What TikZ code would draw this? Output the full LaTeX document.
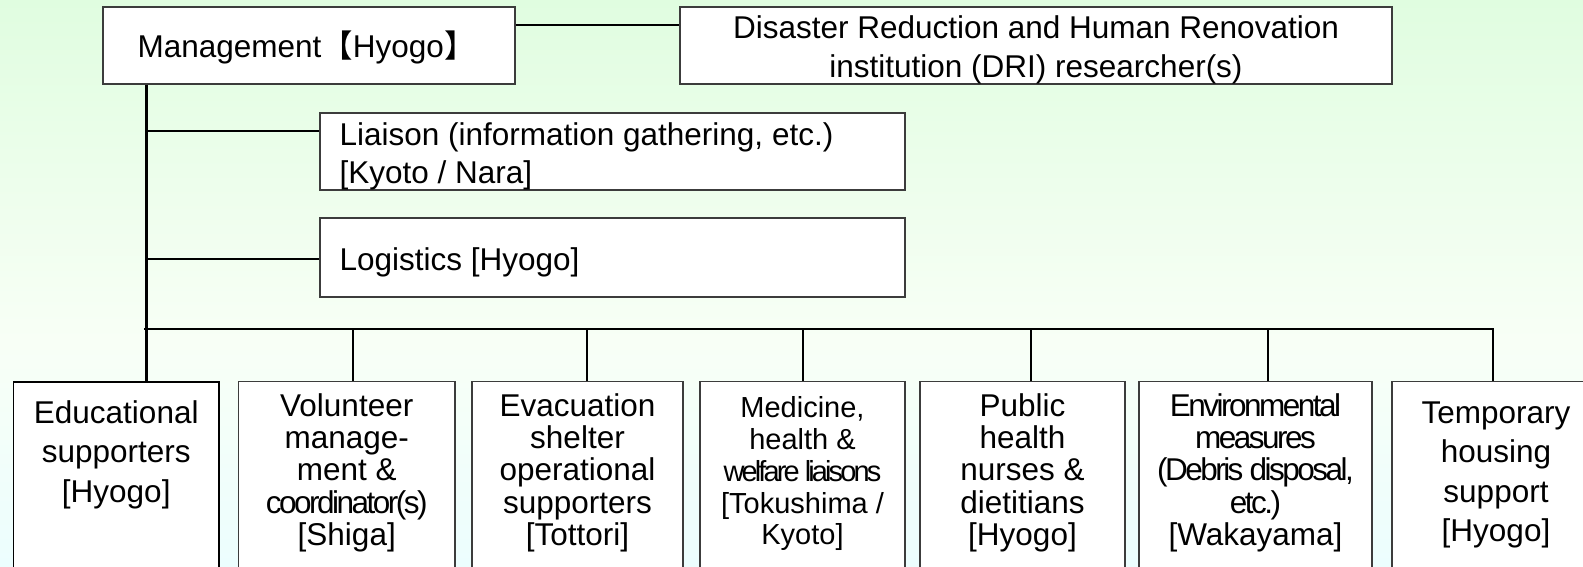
\documentclass[tikz,border=0pt]{standalone}
\usepackage{fontspec}
\setmainfont{Liberation Sans}
\newfontfamily\cjkfont{Noto Sans CJK JP}
\usetikzlibrary{calc}
\definecolor{bgtop}{RGB}{224,253,224}
\definecolor{bgmid}{RGB}{248,255,246}
\definecolor{bgbot}{RGB}{236,254,254}
\definecolor{boxline}{RGB}{60,60,60}
\pgfdeclareverticalshading{bgshade}{100bp}{color(0bp)=(bgbot); color(25bp)=(bgbot); color(45bp)=(bgmid); color(75bp)=(bgtop); color(100bp)=(bgtop)}
\newcommand{\firstln}{\rule{0pt}{25pt}}
\newcommand{\condA}[1]{{\addfontfeature{LetterSpace=-8}#1}}
\newcommand{\condB}[1]{{\addfontfeature{LetterSpace=-10}#1}}
\tikzset{
  orgbox/.style={draw=boxline, line width=1.2pt, fill=white, rectangle, inner sep=0pt},
  lowbox/.style={orgbox, anchor=north, minimum height=240pt},
  conn/.style={draw=black, line width=1.8pt},
  thickconn/.style={draw=black, line width=2.4pt},
  thinconn/.style={draw=black, line width=1.3pt},
  trunkline/.style={draw=black, line width=2.4pt},
  txtwide/.style={font=\fontsize{31.5}{39.4}\selectfont, align=center, inner sep=0pt, anchor=north},
  txttight/.style={font=\fontsize{31.5}{32.3}\selectfont, align=center, inner sep=0pt, anchor=north},
  txtsmall/.style={font=\fontsize{29}{31.8}\selectfont, align=center, inner sep=0pt, anchor=north},
  txtone/.style={font=\fontsize{31.5}{38}\selectfont, inner sep=0pt}
}
\begin{document}
\begin{tikzpicture}[x=1pt,y=-1pt]
\useasboundingbox (0,0) rectangle (1583,567);
\shade[shading=bgshade] (0,0) rectangle (1583,567);

% top boxes
\node[orgbox, minimum width=412pt, minimum height=77pt] (mgmt) at (309,45.5) {};
\node[orgbox, minimum width=712pt, minimum height=77pt] (dri) at (1036,45.5) {};
\node[orgbox, minimum width=585pt, minimum height=77pt] (liaison) at (612.5,151.5) {};
\node[orgbox, minimum width=585pt, minimum height=79pt] (logis) at (612.5,257.5) {};

\node[txtone, anchor=base west] (mgmtt) at ($(mgmt.north west)+(35,50.8)$) {Management{\cjkfont 【}Hyogo{\cjkfont 】}};
\node[txtone, font=\fontsize{31.5}{39}\selectfont, align=center, anchor=north] (drit) at ($(dri.north)+(0,7)$) {\firstln Disaster Reduction and Human Renovation\\institution (DRI) researcher(s)};
\node[txtone, align=left, anchor=north west] (liaisont) at ($(liaison.north west)+(20,8.3)$) {\firstln Liaison (information gathering, etc.)\\{[}Kyoto / Nara]};
\node[txtone, anchor=base west] (logist) at ($(logis.north west)+(20,52.8)$) {Logistics [Hyogo]};

% bottom boxes
\node[lowbox, line width=1.8pt, draw=black, minimum width=205.5pt] (b1) at (116.25,381) {};
\node[lowbox, minimum width=216.5pt] (b2) at (346.75,381) {};
\node[lowbox, minimum width=211pt] (b3) at (577.5,381) {};
\node[lowbox, minimum width=205pt] (b4) at (802.5,381) {};
\node[lowbox, minimum width=205pt] (b5) at (1022.5,381) {};
\node[lowbox, minimum width=233pt] (b6) at (1255.5,381) {};
\node[lowbox, minimum width=208pt] (b7) at (1496,381) {};

\node[txtwide] (t1) at ($(b1.north)+(0,17)$) {\firstln Educational\\supporters\\{[}Hyogo]};
\node[txttight] (t2) at ($(b2.north)+(0,10)$) {\firstln Volunteer\\manage-\\ment \&\\\condA{coordinator(s)}\\{[}Shiga]};
\node[txttight] (t3) at ($(b3.north)+(0,10)$) {\firstln Evacuation\\shelter\\operational\\supporters\\{[}Tottori]};
\node[txtsmall] (t4) at ($(b4.north)+(0,11.5)$) {\firstln Medicine,\\health \&\\\condB{welfare liaisons}\\{[}Tokushima /\\Kyoto]};
\node[txttight] (t5) at ($(b5.north)+(0,10)$) {\firstln Public\\health\\nurses \&\\dietitians\\{[}Hyogo]};
\node[txttight] (t6) at ($(b6.north)+(0,10)$) {\firstln \condA{Environmental}\\\condA{measures}\\\condA{(Debris disposal,}\\\condA{etc.)}\\{[}Wakayama]};
\node[txtwide] (t7) at ($(b7.north)+(0,17)$) {\firstln Temporary\\housing\\support\\{[}Hyogo]};

% connectors
\coordinate (trunktop) at ($(mgmt.south west)+(44,0)$);
\coordinate (lc) at ($(liaison.north west)+(0,19)$);
\coordinate (lg) at ($(logis.west)+(0,1.5)$);
\coordinate (busL) at (144,329);
\coordinate (d2) at (353,329);
\coordinate (d3) at (587,329);
\coordinate (d4) at (803,329);
\coordinate (d5) at (1031,329);
\coordinate (d6) at (1268,329);
\coordinate (d7) at (1493,329);

\draw[thinconn] (mgmt.east |- 0,25) -- (dri.west |- 0,25);
\draw[trunkline] (trunktop) -- (trunktop |- b1.north);
\draw[conn] (trunktop |- lc) -- (lc);
\draw[thickconn] (trunktop |- lg) -- (lg);
\draw[conn] (busL) -- (d7) -- (d7 |- b7.north);
\draw[conn] (d2) -- (d2 |- b2.north);
\draw[conn] (d3) -- (d3 |- b3.north);
\draw[conn] (d4) -- (d4 |- b4.north);
\draw[conn] (d5) -- (d5 |- b5.north);
\draw[conn] (d6) -- (d6 |- b6.north);
\end{tikzpicture}
\end{document}
